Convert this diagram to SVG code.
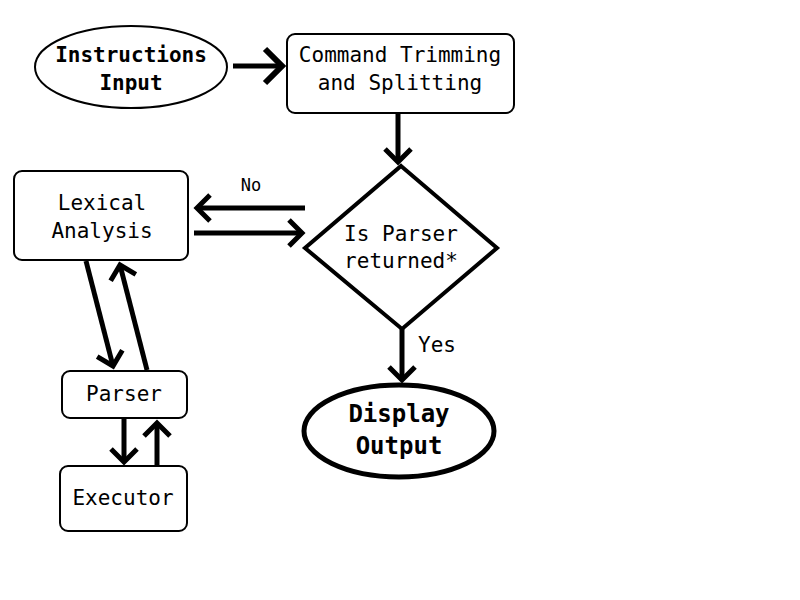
<svg xmlns="http://www.w3.org/2000/svg" width="800" height="600" viewBox="0 0 800 600">
<style>
.box{fill:#fff;stroke:#000;stroke-width:2}
.t{font-family:"DejaVu Sans Mono","Liberation Mono",monospace;font-size:21px;fill:#000;text-anchor:middle}
.b{font-weight:bold}
.c{fill:none;stroke:#000;stroke-width:5}
</style>
<defs>
<marker id="ah" markerUnits="userSpaceOnUse" markerWidth="40" markerHeight="40" viewBox="-20 -20 40 40" refX="0" refY="0" orient="auto">
<path d="M-13,-13 L0,0 L-13,13" fill="none" stroke="#000" stroke-width="5"/>
</marker>
<marker id="ahL" markerUnits="userSpaceOnUse" markerWidth="50" markerHeight="50" viewBox="-25 -25 50 50" refX="0" refY="0" orient="auto">
<path d="M-17,-17 L0,0 L-17,17" fill="none" stroke="#000" stroke-width="6"/>
</marker>
</defs>
<rect width="800" height="600" fill="#fff"/>
<g id="connectors">
<path class="c" d="M233,66 L282,66" stroke-width="6" marker-end="url(#ahL)"/>
<path class="c" d="M398,112 L398,162" marker-end="url(#ah)"/>
<path class="c" d="M305,208 L197,208" marker-end="url(#ah)"/>
<path class="c" d="M194,233 L302,233" marker-end="url(#ah)"/>
<path class="c" d="M86,261 L113,366" marker-end="url(#ah)"/>
<path class="c" d="M147,370 L120,265" marker-end="url(#ah)"/>
<path class="c" d="M124,419 L124,462" marker-end="url(#ah)"/>
<path class="c" d="M157,465 L157,423" marker-end="url(#ah)"/>
<path class="c" d="M402,329 L402,380" marker-end="url(#ah)"/>
<text class="t" x="251" y="191" style="font-size:17px">No</text>
<text class="t" x="437" y="352">Yes</text>
</g>
<g id="instructions-input">
<ellipse class="box" cx="131" cy="67" rx="96" ry="41"/>
<text class="t b" x="131" y="62">Instructions</text>
<text class="t b" x="131" y="90">Input</text>
</g>
<g id="command-trimming">
<rect class="box" x="287" y="34" width="227" height="79" rx="8"/>
<text class="t" x="400" y="62">Command Trimming</text>
<text class="t" x="400" y="90">and Splitting</text>
</g>
<g id="is-parser-returned">
<polygon points="401,166 497,248 402,329 305,248" fill="#fff" stroke="#000" stroke-width="4"/>
<text class="t" x="401" y="241">Is Parser</text>
<text class="t" x="401" y="268">returned*</text>
</g>
<g id="lexical-analysis">
<rect class="box" x="14" y="171" width="174" height="89" rx="8"/>
<text class="t" x="102" y="210">Lexical</text>
<text class="t" x="102" y="238">Analysis</text>
</g>
<g id="parser">
<rect class="box" x="62" y="371" width="125" height="47" rx="8"/>
<text class="t" x="124" y="401">Parser</text>
</g>
<g id="executor">
<rect class="box" x="60" y="466" width="127" height="65" rx="8"/>
<text class="t" x="123" y="505">Executor</text>
</g>
<g id="display-output">
<ellipse cx="399" cy="431" rx="95" ry="46" fill="#fff" stroke="#000" stroke-width="5"/>
<text class="t b" x="399" y="422" style="font-size:24px">Display</text>
<text class="t b" x="399" y="454" style="font-size:24px">Output</text>
</g>
</svg>
